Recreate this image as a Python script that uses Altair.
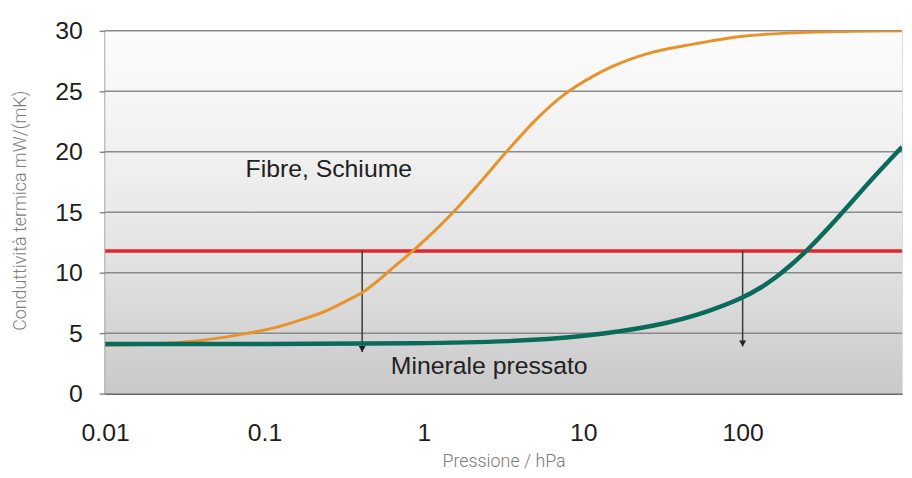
import altair as alt
import pandas as pd

# ---- data ----
pressure_fibre = [0.01, 0.02, 0.04, 0.079, 0.12, 0.16, 0.25, 0.33, 0.42, 0.68, 0.87,
                  1.2, 1.58, 2.3, 3.4, 5.0, 7.2, 11.7, 15.5, 25, 49, 100, 300, 1000]
k_fibre = [4.0, 4.1, 4.4, 5.0, 5.5, 6.0, 6.9, 7.7, 8.45, 10.7, 11.9,
           13.6, 15.2, 17.6, 20.2, 22.6, 24.5, 26.3, 27.1, 28.1, 28.9, 29.55, 29.9, 30.0]

pressure_mineral = [0.01, 0.1, 1, 3.5, 10, 30, 62, 100, 130, 158, 200, 253, 400, 630, 1000]
k_mineral = [4.1, 4.1, 4.15, 4.3, 4.7, 5.6, 6.8, 7.9, 8.75, 9.5, 10.6, 11.8, 14.6, 17.6, 20.4]

limit_value = [11.8]
arrow_pressure = [0.41, 100]
arrow_tip = [3.45, 3.9]

label_text = ["Fibre, Schiume", "Minerale pressato"]
label_x = [0.076, 0.62]
label_y = [18.6, 2.25]

y_ticks = [0, 5, 10, 15, 20, 25, 30]
x_ticks = [0.01, 0.1, 1, 10, 100]
x_domain = [0.01, 1000]
y_domain = [0, 30]

# ---- scales / axes ----
xscale = alt.Scale(type="log", domain=x_domain, nice=False)
yscale = alt.Scale(domain=y_domain, nice=False, zero=False)

xaxis = alt.Axis(
    values=x_ticks, format="~g", title="Pressione / hPa",
    grid=False, ticks=False, tickSize=0, domain=True, domainColor="#6a6a6a", domainWidth=2,
    labelFont="Liberation Sans", labelFontSize=25, labelColor="#1e1e1e",
    labelPadding=27, labelFlush=False, labelBaseline="top",
    titleFont="Roboto", titleFontWeight=300, titleFontSize=18, titleColor="#7c7c7c",
    titleY=74, titleBaseline="alphabetic",
)
yaxis = alt.Axis(
    values=y_ticks, title="Conduttività termica mW/(mK)",
    grid=False, ticks=True, tickSize=6, tickColor="#8a8a8a", tickWidth=1.5,
    domain=True, domainColor="#505050", domainWidth=2,
    labelFont="Liberation Sans", labelFontSize=25, labelColor="#1e1e1e",
    labelPadding=17,
    titleFont="Roboto", titleFontWeight=300, titleFontSize=18, titleColor="#7c7c7c",
    titleX=-85, titleY=181, titleAngle=270, titleAlign="center", titleBaseline="middle",
)


def X(field):
    return alt.X(field, type="quantitative", scale=xscale, axis=xaxis)


def Y(field):
    return alt.Y(field, type="quantitative", scale=yscale, axis=yaxis)


bg_df = pd.DataFrame({"x": [x_domain[0]], "x2": [x_domain[1]],
                      "y": [y_domain[0]], "y2": [y_domain[1]]})
gradient = alt.Gradient(
    gradient="linear",
    stops=[alt.GradientStop(color="#fcfcfc", offset=0),
           alt.GradientStop(color="#eeeeee", offset=0.4),
           alt.GradientStop(color="#dedede", offset=0.7),
           alt.GradientStop(color="#c9c9c9", offset=1)],
    x1=0, x2=0, y1=0, y2=1,
)
background = alt.Chart(bg_df).mark_rect(fill=gradient).encode(
    x=X("x"), x2="x2", y=Y("y"), y2="y2"
)

grid = alt.Chart(pd.DataFrame({"y": y_ticks[1:]})).mark_rule(
    color="#8a8a8a", strokeWidth=1.5
).encode(y=Y("y"))

fibre_df = pd.DataFrame({"x": pressure_fibre, "y": k_fibre})
mineral_df = pd.DataFrame({"x": pressure_mineral, "y": k_mineral})

fibre = alt.Chart(fibre_df).mark_line(
    color="#e8922a", strokeWidth=3, interpolate="monotone", clip=True
).encode(x=X("x"), y=Y("y"))

mineral = alt.Chart(mineral_df).mark_line(
    color="#0b6b5a", strokeWidth=4.5, interpolate="basis", clip=True
).encode(x=X("x"), y=Y("y"))

limit = alt.Chart(pd.DataFrame({"y": limit_value})).mark_rule(
    color="#e3262d", strokeWidth=3.5
).encode(y=Y("y"))

arrow_df = pd.DataFrame({"x": arrow_pressure, "y": [limit_value[0]] * 2, "y2": arrow_tip})
arrow_lines = alt.Chart(arrow_df).mark_rule(color="#3a3a3a", strokeWidth=1.5).encode(
    x=X("x"), y=Y("y"), y2="y2"
)
arrow_heads = alt.Chart(arrow_df).mark_point(
    shape="triangle-down", filled=True, color="#222222", size=50, opacity=1, yOffset=-3
).encode(x=X("x"), y=Y("y2"))

labels = alt.Chart(pd.DataFrame({"x": label_x, "y": label_y, "t": label_text})).mark_text(
    align="left", baseline="middle", font="Liberation Sans", fontSize=25, color="#222222"
).encode(x=X("x"), y=Y("y"), text="t:N")

chart = alt.layer(
    background, grid, limit, arrow_lines, arrow_heads, fibre, mineral, labels
).properties(
    width=804, height=366,
    padding={"left": 98, "top": 21, "right": 2, "bottom": 75},
    autosize=alt.AutoSizeParams(type="none"),
).configure_view(strokeWidth=0).configure(background="white")

chart.save("out.html", embed_options={"renderer": "svg", "actions": False})
